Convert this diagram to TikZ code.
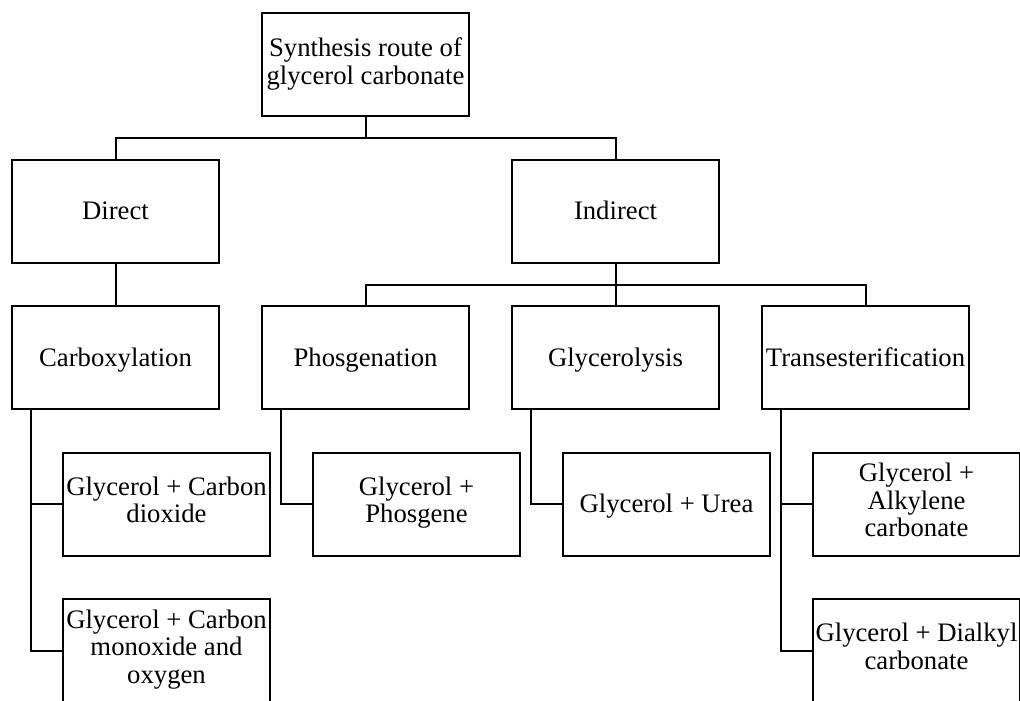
\documentclass[tikz,border=0pt]{standalone}
\usepackage{fontspec}
\setmainfont{Liberation Serif}
\usetikzlibrary{calc}

% keeps every text line at the same height, with or without descenders
\newcommand{\boxstrut}{\rule[-4.1pt]{0pt}{16.7pt}}

\begin{document}
\begin{tikzpicture}[x=.5pt,y=-.5pt,
  every node/.style={font=\fontsize{13.35}{13.75}\selectfont,inner sep=0pt},
  box/.style={draw,line width=1pt,minimum width=103.5pt,minimum height=51.5pt,
    align=center,execute at begin node=\boxstrut,execute at end node=\boxstrut},
  link/.style={line width=1pt}]

% Boxes are 207 x 103 px; columns sit 250 px apart.
\def\gap{250}

\useasboundingbox (0,0) rectangle (1020,700);
\clip (0,0) rectangle (1020,700);

% -------------------------------------------------------------------------
% Root and the two main routes.
% -------------------------------------------------------------------------
\node[box] (root)     at (115.5+1*\gap,65)    {Synthesis route of\\glycerol carbonate};
\node[box] (direct)   at (115.5+0*\gap,211.5) {Direct};
\node[box] (indirect) at (115.5+2*\gap,211.5) {Indirect};

\coordinate (rootbus) at ($(root.south)+(0,21)$);
\draw[link] (root.south) -- (rootbus);
\draw[link] (direct.north) |- (rootbus) -| (indirect.north);

% -------------------------------------------------------------------------
% Reactions.
% -------------------------------------------------------------------------
\node[box] (carbox)  at (115.5+0*\gap,357.5) {Carboxylation};
\node[box] (phosgen) at (115.5+1*\gap,357.5) {Phosgenation};
\node[box] (glycer)  at (115.5+2*\gap,357.5) {Glycerolysis};
\node[box] (transes) at (115.5+3*\gap,357.5) {Transesterification};

\draw[link] (direct.south) -- (carbox.north);
\coordinate (indbus) at ($(indirect.south)+(0,21)$);
\draw[link] (indirect.south) -- (glycer.north);
\draw[link] (phosgen.north) |- (indbus) -| (transes.north);

% -------------------------------------------------------------------------
% Starting materials.
% -------------------------------------------------------------------------
\node[box] (codiox)  at (166.5+0*\gap,504)   {Glycerol + Carbon\\dioxide};
\node[box] (comono)  at (166.5+0*\gap,650.5) {Glycerol + Carbon\\monoxide and\\oxygen};
\node[box] (phosg)   at (166.5+1*\gap,504)   {Glycerol +\\Phosgene};
\node[box] (urea)    at (166.5+2*\gap,504)   {Glycerol + Urea};
\node[box] (alkyl)   at (166.5+3*\gap,504)   {Glycerol +\\Alkylene\\carbonate};
\node[box] (dialkyl) at (166.5+3*\gap,650.5) {Glycerol + Dialkyl\\carbonate};

% Each branch drops from 20 px inside the parent's left edge.
\coordinate (carboxfoot)  at ($(carbox.south west)+(20,0)$);
\coordinate (phosgenfoot) at ($(phosgen.south west)+(20,0)$);
\coordinate (glycerfoot)  at ($(glycer.south west)+(20,0)$);
\coordinate (transesfoot) at ($(transes.south west)+(20,0)$);
\draw[link] (carboxfoot) |- (codiox.west);
\draw[link] (carboxfoot) |- (comono.west);
\draw[link] (phosgenfoot) |- (phosg.west);
\draw[link] (glycerfoot) |- (urea.west);
\draw[link] (transesfoot) |- (alkyl.west);
\draw[link] (transesfoot) |- (dialkyl.west);
\end{tikzpicture}
\end{document}
